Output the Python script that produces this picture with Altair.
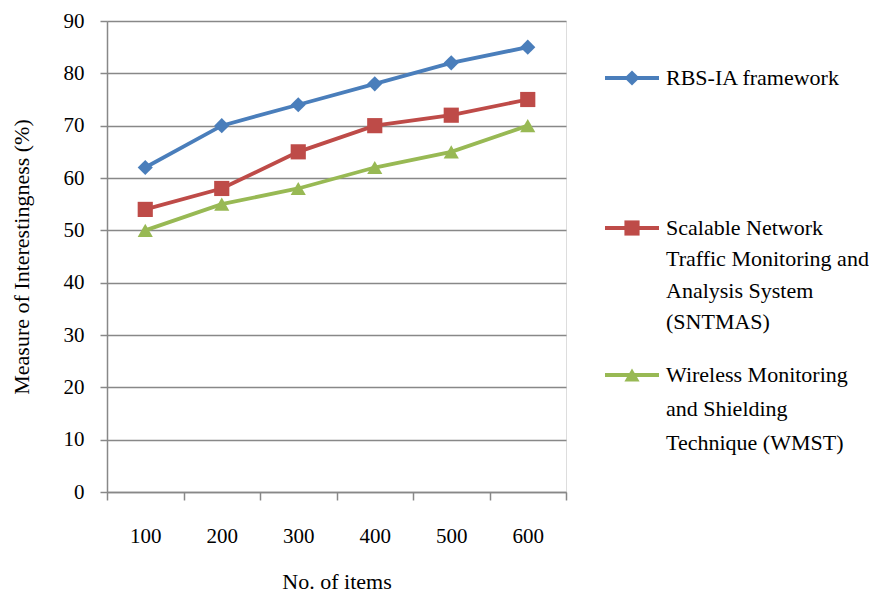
import altair as alt
import pandas as pd

items = ["100", "200", "300", "400", "500", "600"]
series_names = [
    "RBS-IA framework",
    "Scalable Network Traffic Monitoring and Analysis System (SNTMAS)",
    "Wireless Monitoring and Shielding Technique (WMST)",
]
rbs = [62, 70, 74, 78, 82, 85]
sntmas = [54, 58, 65, 70, 72, 75]
wmst = [50, 55, 58, 62, 65, 70]

legend_lines = [
    ["RBS-IA framework"],
    ["Scalable Network", "Traffic Monitoring and", "Analysis System", "(SNTMAS)"],
    ["Wireless Monitoring", "and Shielding", "Technique (WMST)"],
]

colors = ["#4A7EBB", "#BE4B48", "#98B954"]
shapes = ["diamond", "square", "triangle-up"]

rows = []
for name, vals in zip(series_names, [rbs, sntmas, wmst]):
    for it, v in zip(items, vals):
        rows.append({"items": it, "value": v, "series": name})
df = pd.DataFrame(rows)
one = pd.DataFrame({"k": [0]})

FONT = "Liberation Serif"
W, H = 459, 471

xenc = alt.X("items:N", sort=items, title="No. of items",
             scale=alt.Scale(paddingInner=0, paddingOuter=0),
             axis=alt.Axis(labelAngle=0, tickBand="extent", tickSize=8,
                           tickColor="#888888", tickWidth=1.5,
                           domainColor="#888888", domainWidth=1.5,
                           labelFontSize=21, labelFont=FONT, labelColor="black",
                           labelPadding=25, titleFontSize=22, titleFont=FONT,
                           titleFontWeight="normal", titlePadding=25,
                           titleColor="black", grid=False))
yenc = alt.Y("value:Q", title="Measure of Interestingness (%)",
             scale=alt.Scale(domain=[0, 90]),
             axis=alt.Axis(values=list(range(0, 91, 10)), tickSize=7,
                           tickColor="#888888", tickWidth=1.5,
                           domainColor="#888888", domainWidth=1.5,
                           gridColor="#888888", gridWidth=1.5,
                           labelFontSize=21, labelFont=FONT, labelColor="black",
                           labelPadding=16, titleFontSize=22, titleFont=FONT,
                           titleFontWeight="normal", titlePadding=30,
                           titleColor="black"))
cscale = alt.Scale(domain=series_names, range=colors)
sscale = alt.Scale(domain=series_names, range=shapes)

base = alt.Chart(df).encode(x=xenc, y=yenc)
lines = base.mark_line(strokeWidth=3.8).encode(
    color=alt.Color("series:N", scale=cscale, legend=None))
pts = base.mark_point(filled=True, size=230, opacity=1).encode(
    color=alt.Color("series:N", scale=cscale, legend=None),
    shape=alt.Shape("series:N", scale=sscale, legend=None))

layers = [lines, pts]
leg_y = [57, 207, 354]
leg_lh = [32, 31.3, 34]
for i in range(3):
    y = leg_y[i]
    layers.append(alt.Chart(one).mark_rule(color=colors[i], strokeWidth=3.8).encode(
        x=alt.value(498), x2=alt.value(552), y=alt.value(y)))
    layers.append(alt.Chart(one).mark_point(filled=True, size=230, opacity=1,
                                            color=colors[i], shape=shapes[i]).encode(
        x=alt.value(525), y=alt.value(y)))
    layers.append(alt.Chart(one).mark_text(align="left", baseline="middle", font=FONT,
                                           fontSize=22, lineHeight=leg_lh[i],
                                           color="black").encode(
        x=alt.value(559), y=alt.value(y),
        text=alt.value(legend_lines[i])))

chart = alt.layer(*layers).properties(
    width=W, height=H,
    autosize=alt.AutoSizeParams(type="none"),
    padding={"left": 99, "top": 13, "right": 303, "bottom": 104},
).configure_view(stroke=None).configure(background="white")

chart.save("out.html", embed_options={"renderer": "svg", "actions": False})
